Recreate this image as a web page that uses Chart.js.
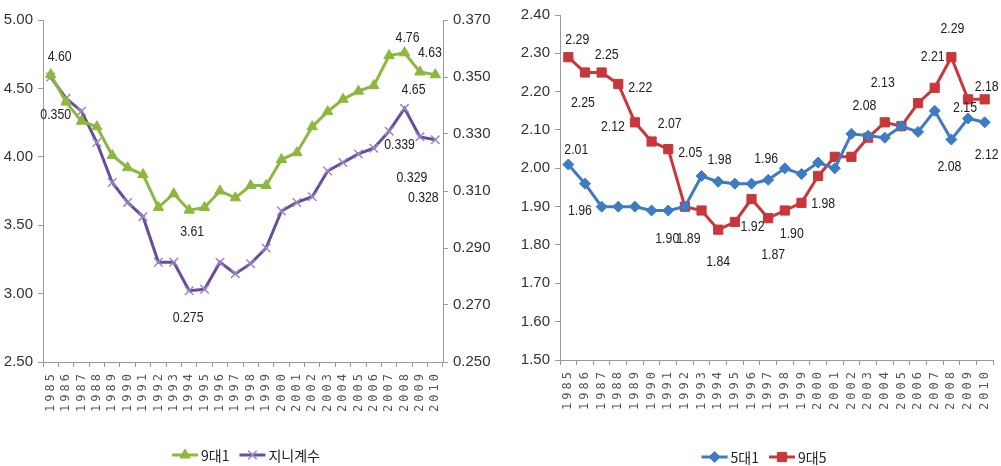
<!DOCTYPE html>
<html lang="ko">
<head>
  <meta charset="UTF-8">
  <title>9대1 · 지니계수 / 5대1 · 9대5</title>
  <script src="https://cdn.jsdelivr.net/npm/chart.js"></script>
  <style>
    body { margin: 0; background: #fff; }
    .wrap { position: relative; width: 1001px; height: 466px; }
    .box { position: absolute; top: 0; height: 466px; }
    #leftBox { left: 0; width: 500px; }
    #rightBox { left: 500px; width: 501px; }
  </style>
</head>
<body>
  <div class="wrap">
    <div class="box" id="leftBox"><canvas id="leftChart" width="500" height="466"></canvas></div>
    <div class="box" id="rightBox"><canvas id="rightChart" width="501" height="466"></canvas></div>
  </div>

  <script>
    // 연도 (x축)
    const years = ['1985','1986','1987','1988','1989','1990','1991','1992','1993','1994','1995','1996','1997',
                   '1998','1999','2000','2001','2002','2003','2004','2005','2006','2007','2008','2009','2010'];

    // 왼쪽 차트: 9대1 (왼쪽 축), 지니계수 (오른쪽 축)
    const ratio91 = [4.60, 4.40, 4.26, 4.22, 4.01, 3.92, 3.87, 3.63, 3.73, 3.61, 3.63, 3.75, 3.70,
                     3.79, 3.79, 3.98, 4.03, 4.22, 4.33, 4.42, 4.48, 4.52, 4.74, 4.76, 4.62, 4.60];
    const gini = [0.350, 0.3425, 0.338, 0.327, 0.313, 0.306, 0.301, 0.285, 0.285, 0.275, 0.2755, 0.285, 0.281,
                  0.2845, 0.290, 0.303, 0.306, 0.308, 0.317, 0.320, 0.323, 0.325, 0.331, 0.339, 0.329, 0.328];

    // 오른쪽 차트: 5대1, 9대5
    const ratio51 = [2.01, 1.96, 1.90, 1.90, 1.90, 1.89, 1.89, 1.90, 1.98, 1.965, 1.96, 1.96, 1.97,
                     2.00, 1.985, 2.015, 2.00, 2.09, 2.085, 2.08, 2.11, 2.095, 2.15, 2.075, 2.13, 2.12];
    const ratio95 = [2.29, 2.25, 2.25, 2.22, 2.12, 2.07, 2.05, 1.90, 1.89, 1.84, 1.86, 1.92, 1.87,
                     1.89, 1.91, 1.98, 2.03, 2.03, 2.08, 2.12, 2.11, 2.17, 2.21, 2.29, 2.18, 2.18];

    // 데이터 레이블 [계열, 연도 인덱스, 텍스트]
    const leftLabels = [
      [0, 0, '4.60'], [1, 0, '0.350'], [0, 9, '3.61'], [1, 9, '0.275'],
      [0, 23, '4.76'], [0, 24, '4.63'], [0, 23, '4.65'],
      [1, 23, '0.339'], [1, 24, '0.329'], [1, 25, '0.328']
    ];
    const rightLabels = [
      [1, 0, '2.29'], [1, 1, '2.25'], [1, 2, '2.25'], [1, 3, '2.22'], [1, 4, '2.12'],
      [1, 5, '2.07'], [1, 6, '2.05'], [0, 0, '2.01'], [0, 1, '1.96'], [0, 6, '1.90'],
      [1, 8, '1.89'], [0, 8, '1.98'], [1, 9, '1.84'], [1, 11, '1.92'], [1, 12, '1.87'],
      [0, 12, '1.96'], [1, 13, '1.90'], [1, 15, '1.98'], [0, 17, '2.08'], [1, 19, '2.13'],
      [1, 22, '2.21'], [1, 23, '2.29'], [1, 25, '2.18'], [0, 24, '2.15'], [0, 23, '2.08'],
      [0, 25, '2.12']
    ];
    // 레이블 위치 보정 (px)
    const leftOffsets = [[9,-18],[5,38],[3,22],[-1,27],[3,-15],[10,-19],[9,37],[-5,37],[-8,41],[-12,58]];
    const rightOffsets = [[9,-17],[-2,30],[5,-18],[22,4],[-22,5],[18,-18],[22,4],[8,-15],[-5,27],[-1,28],
      [-13,28],[18,-16],[0,32],[1,28],[5,37],[-2,-21],[7,23],[5,28],[13,-28],[-2,-39],
      [-2,-31],[1,-28],[2,-12],[-3,-11],[-2,27],[2,33]];

    const GREEN = '#8cb83e', PURPLE = '#6a4c9c', PURPLE_M = '#9a86c6', BLUE = '#3d7cc3', RED = '#c9373b';
    const NUM_FONT = "'Liberation Sans Narrow', 'Liberation Sans', sans-serif";

    // 데이터 레이블 그리기 (가로로 약간 좁게)
    const labelPlugin = {
      id: 'pointLabels',
      afterDatasetsDraw(chart, args, opts) {
        const ctx = chart.ctx;
        opts.items.forEach((it, k) => {
          const pt = chart.getDatasetMeta(it[0]).data[it[1]];
          const off = opts.offsets[k];
          ctx.save();
          ctx.translate(pt.x + off[0], pt.y + off[1]);
          ctx.scale(0.82, 1);
          ctx.font = '15px ' + NUM_FONT;
          ctx.fillStyle = '#222';
          ctx.textAlign = 'center';
          ctx.textBaseline = 'middle';
          ctx.fillText(it[2], 0, 0);
          ctx.restore();
        });
      }
    };

    // x축 연도 레이블 (세로, 자간 넓게)
    const yearPlugin = {
      id: 'yearTicks',
      afterDraw(chart) {
        const sc = chart.scales.x;
        const ctx = chart.ctx;
        ctx.save();
        ctx.font = "12px 'DejaVu Sans Mono', monospace";
        ctx.fillStyle = '#555';
        ctx.textAlign = 'right';
        ctx.textBaseline = 'middle';
        if ('letterSpacing' in ctx) ctx.letterSpacing = '3px';
        sc.ticks.forEach((t, i) => {
          ctx.save();
          ctx.translate(sc.getPixelForTick(i), sc.top + 9);
          ctx.rotate(-Math.PI / 2);
          ctx.fillText(sc.getLabelForValue(t.value), 0, 0);
          ctx.restore();
        });
        ctx.restore();
      }
    };

    // 범례 (선 + 마커)
    const legendPlugin = {
      id: 'lineLegend',
      afterDraw(chart, args, opts) {
        const ctx = chart.ctx;
        ctx.save();
        ctx.font = "14px 'Noto Sans CJK KR', " + NUM_FONT;
        ctx.textBaseline = 'middle';
        const lineW = 26, gap = 3, sep = 10;
        const widths = chart.data.datasets.map(d => lineW + gap + ctx.measureText(d.label).width);
        const total = widths.reduce((a, b) => a + b, 0) + sep * (widths.length - 1);
        let x = opts.cx - total / 2;
        const y = opts.y;
        chart.data.datasets.forEach((d, i) => {
          ctx.strokeStyle = d.borderColor;
          ctx.lineWidth = 3;
          ctx.beginPath();
          ctx.moveTo(x, y);
          ctx.lineTo(x + lineW, y);
          ctx.stroke();
          ctx.fillStyle = d.pointBackgroundColor;
          ctx.strokeStyle = d.pointBorderColor;
          ctx.lineWidth = d.pointBorderWidth;
          Chart.helpers.drawPoint(ctx, { pointStyle: d.pointStyle, radius: d.pointRadius, rotation: 0, borderWidth: d.pointBorderWidth }, x + lineW / 2, y);
          ctx.fillStyle = '#222';
          ctx.fillText(d.label, x + lineW + gap, y + 1);
          x += widths[i] + sep;
        });
        ctx.restore();
      }
    };

    function axisBase() {
      return {
        border: { display: true, color: '#9a9a9a', width: 1 },
        grid: { display: true, drawOnChartArea: false, drawTicks: true, tickLength: 5, color: '#9a9a9a' },
      };
    }

    function xAxis(height) {
      const a = axisBase();
      a.offset = true;
      a.grid.offset = true;
      a.ticks = { display: false, autoSkip: false };
      a.afterFit = s => { s.height = height; };
      return a;
    }

    function yAxis(pos, min, max, step, digits, width) {
      const a = axisBase();
      a.position = pos;
      a.min = min;
      a.max = max;
      a.ticks = {
        stepSize: step, padding: 5, color: '#333',
        font: { family: NUM_FONT, size: 15 },
        callback: v => Number(v).toFixed(digits)
      };
      a.afterFit = s => { s.width = width; };
      return a;
    }

    // 왼쪽 차트
    new Chart(document.getElementById('leftChart'), {
      type: 'line',
      data: {
        labels: years,
        datasets: [
          {
            label: '9대1', data: ratio91, yAxisID: 'y',
            borderColor: GREEN, borderWidth: 3, tension: 0,
            pointStyle: 'triangle', pointRadius: 6, pointBackgroundColor: GREEN, pointBorderColor: GREEN, pointBorderWidth: 1
          },
          {
            label: '지니계수', data: gini, yAxisID: 'y1',
            borderColor: PURPLE, borderWidth: 3, tension: 0,
            pointStyle: 'crossRot', pointRadius: 6, pointBackgroundColor: PURPLE_M, pointBorderColor: PURPLE_M, pointBorderWidth: 1.5
          }
        ]
      },
      options: {
        responsive: false,
        animation: false,
        layout: { padding: { top: 20, left: 0, right: 0, bottom: 0 } },
        plugins: {
          legend: { display: false },
          tooltip: { enabled: false },
          pointLabels: { items: leftLabels, offsets: leftOffsets },
          lineLegend: { cx: 246, y: 455 }
        },
        scales: {
          x: xAxis(104),
          y: yAxis('left', 2.5, 5.0, 0.5, 2, 43),
          y1: yAxis('right', 0.25, 0.37, 0.02, 3, 57)
        }
      },
      plugins: [labelPlugin, yearPlugin, legendPlugin]
    });

    // 오른쪽 차트
    new Chart(document.getElementById('rightChart'), {
      type: 'line',
      data: {
        labels: years,
        datasets: [
          {
            label: '5대1', data: ratio51,
            borderColor: BLUE, borderWidth: 3, tension: 0,
            pointStyle: 'rectRot', pointRadius: 5.5, pointBackgroundColor: BLUE, pointBorderColor: BLUE, pointBorderWidth: 1
          },
          {
            label: '9대5', data: ratio95,
            borderColor: RED, borderWidth: 3, tension: 0,
            pointStyle: 'rect', pointRadius: 6.5, pointBackgroundColor: RED, pointBorderColor: RED, pointBorderWidth: 1
          }
        ]
      },
      options: {
        responsive: false,
        animation: false,
        layout: { padding: { top: 15, left: 0, right: 8, bottom: 0 } },
        plugins: {
          legend: { display: false },
          tooltip: { enabled: false },
          pointLabels: { items: rightLabels, offsets: rightOffsets },
          lineLegend: { cx: 264, y: 457 }
        },
        scales: {
          x: xAxis(106),
          y: yAxis('left', 1.5, 2.4, 0.1, 2, 60)
        }
      },
      plugins: [labelPlugin, yearPlugin, legendPlugin]
    });
  </script>
</body>
</html>
